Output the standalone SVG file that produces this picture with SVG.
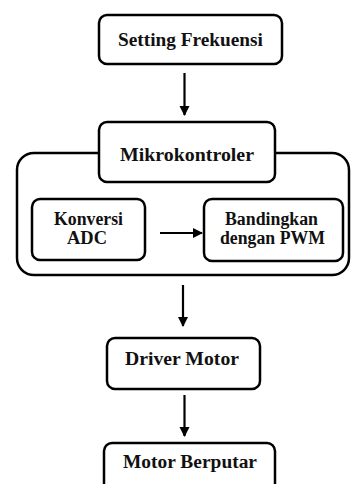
<svg xmlns="http://www.w3.org/2000/svg" width="351" height="484" viewBox="0 0 351 484">
  <style>
    .box { fill: #fff; stroke: #000; stroke-width: 2.5; }
    .lbl { font-family: "Liberation Serif", "Times New Roman", serif; font-weight: bold; font-size: 18px; fill: #111; text-anchor: middle; }
    .edge { stroke: #000; stroke-width: 2.2; fill: none; marker-end: url(#arrow); }
  </style>
  <defs>
    <marker id="arrow" viewBox="0 0 10 10" refX="9" refY="5" markerWidth="4.6" markerHeight="4.6" orient="auto" markerUnits="strokeWidth">
      <path d="M0,0 L10,5 L0,10 z" fill="#000"/>
    </marker>
  </defs>
  <rect width="351" height="484" fill="#fff"/>

  <!-- microcontroller container -->
  <g id="container">
    <rect class="box" x="17" y="153" width="332" height="122" rx="17"/>
  </g>

  <g id="setting">
    <rect class="box" x="99" y="15" width="183" height="49" rx="8"/>
    <text class="lbl" x="190.5" y="46" textLength="145" lengthAdjust="spacingAndGlyphs">Setting Frekuensi</text>
  </g>

  <g id="mikrokontroler">
    <rect class="box" x="99" y="122" width="176" height="60" rx="8"/>
    <text class="lbl" x="187" y="161" textLength="134" lengthAdjust="spacingAndGlyphs">Mikrokontroler</text>
  </g>

  <g id="konversi">
    <rect class="box" x="32" y="199" width="113" height="61" rx="8"/>
    <text class="lbl" x="88.5" y="225" textLength="69" lengthAdjust="spacingAndGlyphs">Konversi</text>
    <text class="lbl" x="87" y="244" textLength="40" lengthAdjust="spacingAndGlyphs">ADC</text>
  </g>

  <g id="bandingkan">
    <rect class="box" x="204" y="199" width="139" height="62" rx="8"/>
    <text class="lbl" x="271.5" y="225" textLength="93" lengthAdjust="spacingAndGlyphs">Bandingkan</text>
    <text class="lbl" x="272.5" y="244" textLength="105" lengthAdjust="spacingAndGlyphs">dengan PWM</text>
  </g>

  <g id="driver">
    <rect class="box" x="107" y="338" width="153" height="51" rx="8"/>
    <text class="lbl" x="182" y="365" textLength="114" lengthAdjust="spacingAndGlyphs">Driver Motor</text>
  </g>

  <g id="motor">
    <rect class="box" x="104" y="443" width="171" height="48" rx="8"/>
    <text class="lbl" x="190" y="468" textLength="134" lengthAdjust="spacingAndGlyphs">Motor Berputar</text>
  </g>

  <g id="connectors">
    <line class="edge" x1="184.5" y1="73" x2="184.5" y2="115"/>
    <line class="edge" x1="160" y1="233" x2="202" y2="233"/>
    <line class="edge" x1="183" y1="285" x2="183" y2="326"/>
    <line class="edge" x1="184.5" y1="395" x2="184.5" y2="436"/>
  </g>
</svg>
